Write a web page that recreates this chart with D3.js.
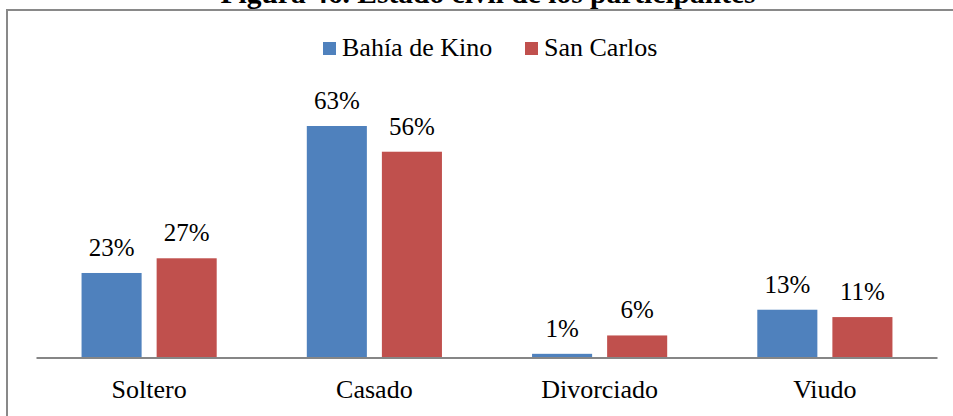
<!DOCTYPE html>
<html>
<head>
<meta charset="utf-8">
<script src="https://cdn.jsdelivr.net/npm/d3@7"></script>
<style>
  html, body { margin: 0; padding: 0; background: #fff; }
  svg { display: block; }
  svg text { font-family: "Liberation Serif", "Times New Roman", serif; }
</style>
</head>
<body>
<svg id="chart" width="953" height="416"></svg>
<script>
// Estado civil de los participantes, por comunidad (%)
const categories = ["Soltero", "Casado", "Divorciado", "Viudo"];
const seriesNames = ["Bahía de Kino", "San Carlos"];
const bahiaDeKino = [23, 63, 1, 13];
const sanCarlos = [27, 56, 6, 11];
const colors = ["#4F81BD", "#C0504D"];

const seriesValues = [bahiaDeKino, sanCarlos];
const rows = categories.map((c, i) => ({
  category: c,
  values: seriesNames.map((s, j) => ({ series: s, idx: j, value: seriesValues[j][i] }))
}));

const serif = "'Liberation Serif', 'Times New Roman', serif";
const svg = d3.select("#chart");

// Chart frame (continues past the right and bottom edges)
svg.append("rect")
  .attr("x", 7).attr("y", 10)
  .attr("width", 1000).attr("height", 500)
  .attr("fill", "none")
  .attr("stroke", "#898989")
  .attr("stroke-width", 2);

// Title
svg.append("text")
  .attr("x", 488).attr("y", 3)
  .attr("text-anchor", "middle")
  .attr("font-family", serif)
  .attr("font-weight", "bold")
  .attr("font-size", 29.5)
  .attr("fill", "#000")
  .text("Figura 46.  Estado civil de los participantes");

// Scales
const plotLeft = 36.5, plotRight = 937.5, baseY = 357.5;
const x0 = d3.scaleBand().domain(categories)
  .range([plotLeft, plotRight])
  .paddingInner(0.4).paddingOuter(0.2);
const x1 = d3.scaleBand().domain(seriesNames)
  .range([0, x0.bandwidth()])
  .paddingInner(0.2);
const y = d3.scaleLinear().domain([0, 63]).range([baseY, 126]);

// Bars
const groups = svg.append("g").selectAll("g")
  .data(rows).join("g")
  .attr("transform", d => `translate(${x0(d.category)},0)`);

groups.selectAll("rect")
  .data(d => d.values).join("rect")
  .attr("x", d => x1(d.series))
  .attr("y", d => y(d.value))
  .attr("width", x1.bandwidth())
  .attr("height", d => baseY - y(d.value))
  .attr("fill", d => colors[d.idx]);

// Value labels
groups.selectAll("text")
  .data(d => d.values).join("text")
  .attr("x", d => x1(d.series) + x1.bandwidth() / 2)
  .attr("y", d => y(d.value) - 17)
  .attr("text-anchor", "middle")
  .attr("font-family", serif)
  .attr("font-size", 25)
  .attr("fill", "#000")
  .text(d => d.value + "%");

// Category axis
const xAxis = d3.axisBottom(x0).tickSize(0).tickPadding(22);
const axisG = svg.append("g")
  .attr("transform", `translate(0,${baseY + 0.5})`)
  .call(xAxis)
  .attr("font-family", serif);
axisG.select(".domain")
  .attr("stroke", "#868686")
  .attr("stroke-width", 2)
  .attr("d", `M${plotLeft},0H${plotRight}`);
axisG.selectAll(".tick text")
  .attr("font-size", 26)
  .attr("font-family", serif)
  .attr("fill", "#000");

// Legend
const legend = svg.append("g");
const legendItems = [
  { name: seriesNames[0], color: colors[0], x: 323 },
  { name: seriesNames[1], color: colors[1], x: 525 }
];
legendItems.forEach(it => {
  legend.append("rect")
    .attr("x", it.x).attr("y", 42)
    .attr("width", 13).attr("height", 13)
    .attr("fill", it.color);
  legend.append("text")
    .attr("x", it.x + 19).attr("y", 56)
    .attr("font-family", serif)
    .attr("font-size", 26)
    .attr("fill", "#000")
    .text(it.name);
});
</script>
</body>
</html>
